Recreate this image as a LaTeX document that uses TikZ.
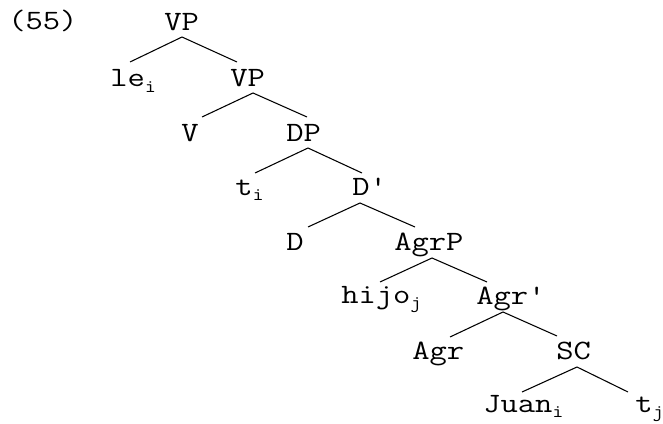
\documentclass[tikz,border=0pt]{standalone}
\usepackage{fontspec}
\setmonofont{Latin Modern Mono}[FakeStretch=1.2]
\newcommand\subidx[1]{\raisebox{-3.8pt}{\fontsize{13.5}{14}\selectfont #1}}
\begin{document}
\begin{tikzpicture}[x=0.75pt,y=-0.75pt,
  lbl/.style={inner sep=0pt,anchor=base west,font=\ttfamily\fontsize{21}{24}\selectfont},
  branch/.style={line width=0.8pt}]
\useasboundingbox (0,0) rectangle (663,424);
\node[lbl] (ex) at (8,30) {(55)};
\node[lbl] (vp1) at (164,31) {VP};
\node[lbl] (le) at (110,87) {le\subidx{i}};
\node[lbl] (vp2) at (230,87) {VP};
\node[lbl] (v) at (181,142) {V};
\node[lbl] (dp) at (286,142) {DP};
\node[lbl] (ti) at (235,195) {t\subidx{i}};
\node[lbl] (dbar) at (352,195) {D'};
\node[lbl] (d) at (286,250) {D};
\node[lbl] (agrp) at (394,250) {AgrP};
\node[lbl] (hijo) at (341,303) {hijo\subidx{j}};
\node[lbl] (agrbar) at (476,304) {Agr'};
\node[lbl] (agr) at (412,359) {Agr};
\node[lbl] (sc) at (556,359) {SC};
\node[lbl] (juan) at (483,412) {Juan\subidx{i}};
\node[lbl] (tj) at (635,412) {t\subidx{j}};
% branch points
\coordinate (vp1b) at (182,37);  \coordinate (leT) at (130,62);  \coordinate (vp2T) at (237,62);
\coordinate (vp2b) at (253,93);  \coordinate (vT) at (202,117);  \coordinate (dpT) at (307,117);
\coordinate (dpb) at (308,148);  \coordinate (tiT) at (255,173); \coordinate (dbarT) at (362,173);
\coordinate (dbarb) at (360,203); \coordinate (dT) at (308,227); \coordinate (agrpT) at (415,227);
\coordinate (agrpb) at (432,258); \coordinate (hijoT) at (380,282); \coordinate (agrbarT) at (487,282);
\coordinate (agrbarb) at (503,312); \coordinate (agrT) at (450,337); \coordinate (scT) at (557,336);
\coordinate (scb) at (577,367); \coordinate (juanT) at (522,392); \coordinate (tjT) at (628,392);
\draw[branch] (leT) -- (vp1b) -- (vp2T);
\draw[branch] (vT) -- (vp2b) -- (dpT);
\draw[branch] (tiT) -- (dpb) -- (dbarT);
\draw[branch] (dT) -- (dbarb) -- (agrpT);
\draw[branch] (hijoT) -- (agrpb) -- (agrbarT);
\draw[branch] (agrT) -- (agrbarb) -- (scT);
\draw[branch] (juanT) -- (scb) -- (tjT);
\end{tikzpicture}
\end{document}
